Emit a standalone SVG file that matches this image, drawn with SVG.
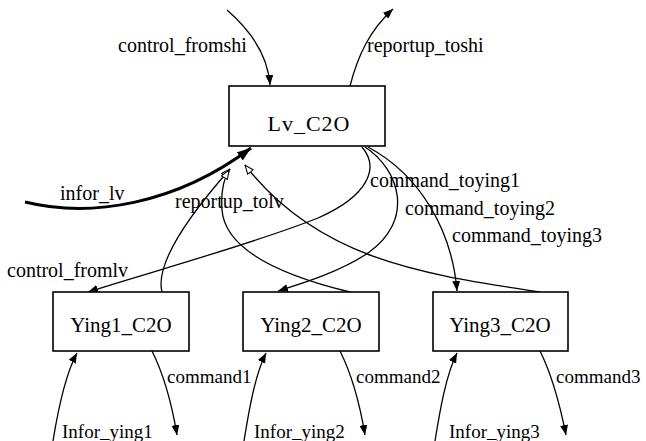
<svg xmlns="http://www.w3.org/2000/svg" width="646" height="441" viewBox="0 0 646 441">
<defs>
<style>
.box{fill:#fff;stroke:#000;stroke-width:1.6}
.nl{font-family:"Liberation Serif","Times New Roman",serif;font-size:21px;fill:#000;text-anchor:middle}
.lb{font-family:"Liberation Serif","Times New Roman",serif;font-size:20px;fill:#000}
.e{fill:none;stroke:#000;stroke-width:1.3}
.thick{fill:none;stroke:#000;stroke-width:3}
</style>
<marker id="ah" viewBox="0 0 10 8" refX="10" refY="4" markerWidth="10" markerHeight="8" orient="auto" markerUnits="userSpaceOnUse">
<path d="M0,0 L10,4 L0,8 Z" fill="#000"/>
</marker>
<marker id="ahb" viewBox="0 0 14 10" refX="14" refY="5" markerWidth="14" markerHeight="10" orient="auto" markerUnits="userSpaceOnUse">
<path d="M0,0 L14,5 L0,10 Z" fill="#000"/>
</marker>
<marker id="oa" viewBox="0 0 10 8" refX="9.5" refY="4" markerWidth="10" markerHeight="8" orient="auto" markerUnits="userSpaceOnUse">
<path d="M0.5,0.5 L9.5,4 L0.5,7.5 Z" fill="#fff" stroke="#000" stroke-width="1"/>
</marker>
</defs>
<g id="connectors">
<path class="e" d="M227,10 C250,30 268,55 270,85" marker-end="url(#ah)"/>
<path class="e" d="M350,86 C358,55 370,30 393,9" marker-end="url(#ah)"/>
<path class="thick" d="M25,202 C90,218 175,205 251,148" marker-end="url(#ahb)"/>
<path class="e" d="M362,147 C380,168 368,196 318,218 C250,245 150,272 88,292" marker-end="url(#ah)"/>
<path class="e" d="M365,147 C400,170 415,220 368,253 C340,272 300,284 278,291" marker-end="url(#ah)"/>
<path class="e" d="M368,147 C420,175 452,230 457,291" marker-end="url(#ah)"/>
<path class="e" d="M162,292 C155,265 185,220 230,169" marker-end="url(#oa)"/>
<path class="e" d="M350,292 C280,275 225,250 222,210 C221,195 223,180 229,170" marker-end="url(#oa)"/>
<path class="e" d="M540,292 C430,275 320,262 245,165" marker-end="url(#oa)"/>
<path class="e" d="M53,441 C58,410 65,375 77,353" marker-end="url(#ah)"/>
<path class="e" d="M152,351 C164,375 172,405 177,435" marker-end="url(#ah)"/>
<path class="e" d="M244,441 C249,410 255,375 266,353" marker-end="url(#ah)"/>
<path class="e" d="M340,351 C352,375 360,405 365,435" marker-end="url(#ah)"/>
<path class="e" d="M435,441 C440,410 446,375 457,353" marker-end="url(#ah)"/>
<path class="e" d="M540,351 C552,375 560,405 566,435" marker-end="url(#ah)"/>
</g>
<g id="Lv_C2O">
<rect class="box" x="229" y="86" width="156" height="60"/>
<text class="nl" x="309" y="131" style="font-size:22px;letter-spacing:1px">Lv_C2O</text>
</g>
<g id="Ying1_C2O">
<rect class="box" x="53" y="292" width="136" height="59"/>
<text class="nl" x="121" y="332">Ying1_C2O</text>
</g>
<g id="Ying2_C2O">
<rect class="box" x="243" y="292" width="136" height="59"/>
<text class="nl" x="311" y="332">Ying2_C2O</text>
</g>
<g id="Ying3_C2O">
<rect class="box" x="433" y="292" width="135" height="59"/>
<text class="nl" x="500" y="332">Ying3_C2O</text>
</g>
<g id="labels">
<text class="lb" x="118" y="52">control_fromshi</text>
<text class="lb" x="367" y="52">reportup_toshi</text>
<text class="lb" x="60" y="200">infor_lv</text>
<text class="lb" x="175" y="208">reportup_tolv</text>
<text class="lb" x="370" y="187">command_toying1</text>
<text class="lb" x="405" y="215">command_toying2</text>
<text class="lb" x="452" y="242">command_toying3</text>
<text class="lb" x="7" y="277">control_fromlv</text>
<text class="lb" x="167" y="383" style="font-size:19px">command1</text>
<text class="lb" x="356" y="383" style="font-size:19px">command2</text>
<text class="lb" x="556" y="383" style="font-size:19px">command3</text>
<text class="lb" x="62" y="438" style="font-size:19px">Infor_ying1</text>
<text class="lb" x="254" y="438" style="font-size:19px">Infor_ying2</text>
<text class="lb" x="449" y="438" style="font-size:19px">Infor_ying3</text>
</g>
</svg>
